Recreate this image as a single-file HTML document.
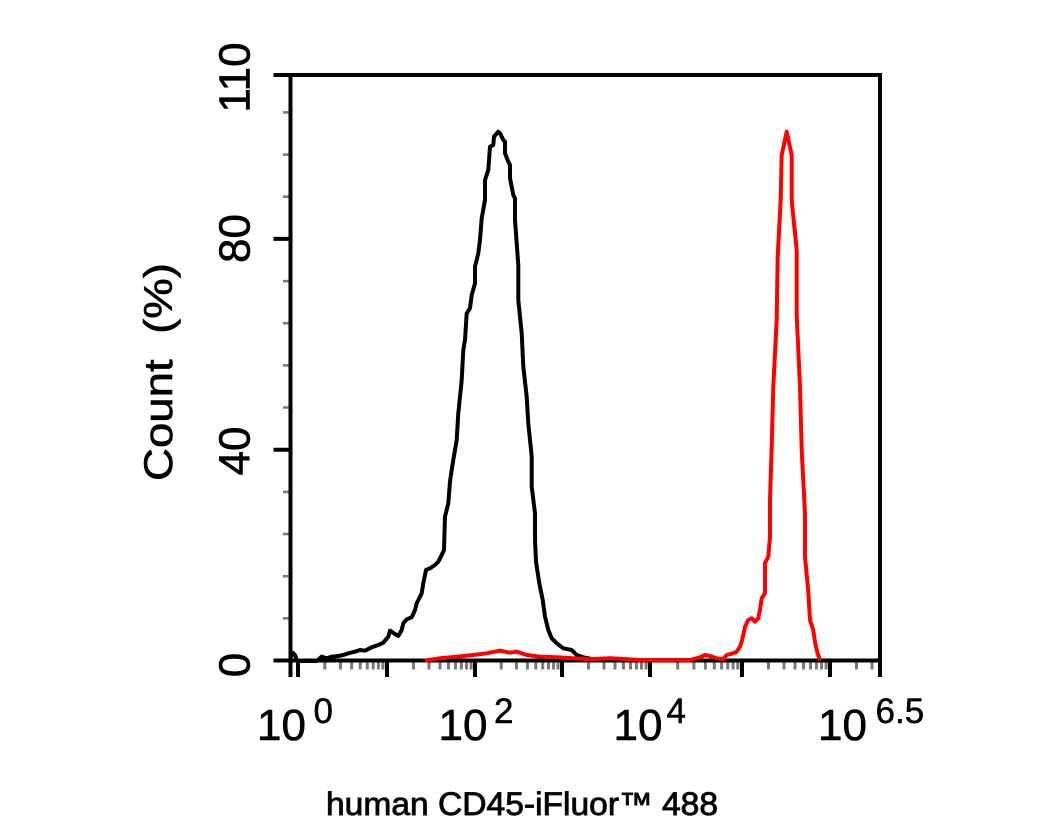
<!DOCTYPE html>
<html>
<head>
<meta charset="utf-8">
<style>
  html, body { margin: 0; padding: 0; background: #ffffff; }
  svg { display: block; }
  text { font-family: "Liberation Sans", Arial, sans-serif; fill: #000; }
</style>
</head>
<body>
<svg width="1046" height="837" viewBox="0 0 1046 837" xmlns="http://www.w3.org/2000/svg">
  <rect x="0" y="0" width="1046" height="837" fill="#ffffff"/>

  <g stroke="#7a7a7a" stroke-width="2.6">
    <line x1="283" y1="618.3" x2="290" y2="618.3"/>
    <line x1="283" y1="576.2" x2="290" y2="576.2"/>
    <line x1="283" y1="534.0" x2="290" y2="534.0"/>
    <line x1="283" y1="491.9" x2="290" y2="491.9"/>
    <line x1="283" y1="407.5" x2="290" y2="407.5"/>
    <line x1="283" y1="365.4" x2="290" y2="365.4"/>
    <line x1="283" y1="323.2" x2="290" y2="323.2"/>
    <line x1="283" y1="281.1" x2="290" y2="281.1"/>
    <line x1="283" y1="196.7" x2="290" y2="196.7"/>
    <line x1="283" y1="154.6" x2="290" y2="154.6"/>
    <line x1="283" y1="112.4" x2="290" y2="112.4"/>
  </g>

  <g stroke="#7a7a7a" stroke-width="3">
    <line x1="324.8" y1="662" x2="324.8" y2="669.5"/>
    <line x1="340.5" y1="662" x2="340.5" y2="669.5"/>
    <line x1="351.6" y1="662" x2="351.6" y2="669.5"/>
    <line x1="360.2" y1="662" x2="360.2" y2="669.5"/>
    <line x1="367.3" y1="662" x2="367.3" y2="669.5"/>
    <line x1="373.2" y1="662" x2="373.2" y2="669.5"/>
    <line x1="378.4" y1="662" x2="378.4" y2="669.5"/>
    <line x1="382.9" y1="662" x2="382.9" y2="669.5"/>
    <line x1="413.5" y1="662" x2="413.5" y2="669.5"/>
    <line x1="429" y1="662" x2="429" y2="669.5"/>
    <line x1="440" y1="662" x2="440" y2="669.5"/>
    <line x1="448.5" y1="662" x2="448.5" y2="669.5"/>
    <line x1="455.5" y1="662" x2="455.5" y2="669.5"/>
    <line x1="461.4" y1="662" x2="461.4" y2="669.5"/>
    <line x1="466.5" y1="662" x2="466.5" y2="669.5"/>
    <line x1="471.1" y1="662" x2="471.1" y2="669.5"/>
    <line x1="501.2" y1="662" x2="501.2" y2="669.5"/>
    <line x1="516.5" y1="662" x2="516.5" y2="669.5"/>
    <line x1="527.4" y1="662" x2="527.4" y2="669.5"/>
    <line x1="535.8" y1="662" x2="535.8" y2="669.5"/>
    <line x1="542.7" y1="662" x2="542.7" y2="669.5"/>
    <line x1="548.5" y1="662" x2="548.5" y2="669.5"/>
    <line x1="553.6" y1="662" x2="553.6" y2="669.5"/>
    <line x1="558.0" y1="662" x2="558.0" y2="669.5"/>
    <line x1="588.5" y1="662" x2="588.5" y2="669.5"/>
    <line x1="604" y1="662" x2="604" y2="669.5"/>
    <line x1="615" y1="662" x2="615" y2="669.5"/>
    <line x1="623.5" y1="662" x2="623.5" y2="669.5"/>
    <line x1="630.5" y1="662" x2="630.5" y2="669.5"/>
    <line x1="636.4" y1="662" x2="636.4" y2="669.5"/>
    <line x1="641.5" y1="662" x2="641.5" y2="669.5"/>
    <line x1="646.1" y1="662" x2="646.1" y2="669.5"/>
    <line x1="677.7" y1="662" x2="677.7" y2="669.5"/>
    <line x1="693.9" y1="662" x2="693.9" y2="669.5"/>
    <line x1="705.4" y1="662" x2="705.4" y2="669.5"/>
    <line x1="714.3" y1="662" x2="714.3" y2="669.5"/>
    <line x1="721.6" y1="662" x2="721.6" y2="669.5"/>
    <line x1="727.7" y1="662" x2="727.7" y2="669.5"/>
    <line x1="733.1" y1="662" x2="733.1" y2="669.5"/>
    <line x1="737.8" y1="662" x2="737.8" y2="669.5"/>
    <line x1="768.5" y1="662" x2="768.5" y2="669.5"/>
    <line x1="784" y1="662" x2="784" y2="669.5"/>
    <line x1="795" y1="662" x2="795" y2="669.5"/>
    <line x1="803.5" y1="662" x2="803.5" y2="669.5"/>
    <line x1="810.5" y1="662" x2="810.5" y2="669.5"/>
    <line x1="816.4" y1="662" x2="816.4" y2="669.5"/>
    <line x1="821.5" y1="662" x2="821.5" y2="669.5"/>
    <line x1="826.1" y1="662" x2="826.1" y2="669.5"/>
    <line x1="856.5" y1="662" x2="856.5" y2="669.5"/>
    <line x1="872" y1="662" x2="872" y2="669.5"/>
  </g>

  <g stroke="#000" stroke-width="4" fill="none">
    <line x1="273.5" y1="75" x2="882" y2="75"/>
    <line x1="273.5" y1="660.5" x2="882" y2="660.5"/>
    <line x1="290.5" y1="73" x2="290.5" y2="677"/>
    <line x1="880" y1="73" x2="880" y2="677"/>
    <line x1="273.5" y1="449.7" x2="290.5" y2="449.7"/>
    <line x1="273.5" y1="238.9" x2="290.5" y2="238.9"/>
    <line x1="298" y1="660.5" x2="298" y2="677"/>
    <line x1="387" y1="660.5" x2="387" y2="677"/>
    <line x1="475" y1="660.5" x2="475" y2="677"/>
    <line x1="562" y1="660.5" x2="562" y2="677"/>
    <line x1="650" y1="660.5" x2="650" y2="677"/>
    <line x1="742" y1="660.5" x2="742" y2="677"/>
    <line x1="830" y1="660.5" x2="830" y2="677"/>
  </g>

  <polyline fill="none" stroke="#000" stroke-width="4" stroke-linejoin="round"
    points="291,657 293,653 295,655 297,661 316.7,661 321.7,656.7 326.7,658.3 331.7,656.7 338.3,656 343.3,655 348.3,653.3 355,651.7 360,650 365,650.7 371.7,647.3 378.3,645 383.3,642.7 388.3,636.7 390,630.7 395,634 398.3,636 401.7,630 403.3,623.3 406.7,619.3 411.7,617.3 415,610 416.7,603.3 421.7,593.3 423.3,583.3 426,570 430,568.3 435,565 438.3,561.7 441.7,555 444,550 444.3,540 445,516.7 448.3,503.3 450,481.7 451.7,470 453.3,460 455,450 456.7,440 458.3,413.3 460,396.7 461.7,380 463.3,350 465,340 466.7,313.3 470,308.3 471.7,295 475,283.3 475,266.7 478.3,253.3 480,240 481.7,218.3 485,200 485,180 488.3,170 490,146.7 493.3,145 494,136.7 498.3,131.7 500,133.3 503.3,140 505,141.7 505,153.3 508.3,161.7 510,165 510,178.3 513.3,195 515,198.3 515,220 518.3,265 518.3,300 521.7,333.3 523.3,366.7 526.7,396.7 528.3,423.3 531.7,456.7 531.7,486.7 535,513.3 535,540 536,561.7 539.3,583.3 542.7,600 545,616.7 548.3,630 551.7,638.3 556.7,643.3 563.3,648.3 571.7,650 576.7,655 583.3,657.3 593.3,659.3 603,660.5"/>

  <polyline fill="none" stroke="#ff0000" stroke-width="4" stroke-linejoin="round"
    points="425,660.5 440,658.3 456.7,656.7 473.3,655 486.7,653.3 500,650.7 510,652.7 516.7,651.7 526.7,655 540,656.7 556.7,657.3 573.3,658.3 590,659.3 610,658.3 640,660 690,660 700,657.3 705,655 710,656 716.7,658.3 723.3,659.3 726.7,655 733.3,653.3 736.7,651.7 740,646.7 741.7,641.7 743.3,635 745,626.7 748.3,620 751.7,618.3 755,621.7 758.3,618.3 760,610 761.7,598.3 765,593.3 765,563.3 768.3,556.7 770,536.7 770,500 771.7,446.7 773.3,386.7 776.7,320 777.7,256.7 780.7,200 781.7,155 786.7,131.7 791.7,155 791.7,200 796.7,250 796.7,315 800,386.7 801.7,450 805,513.3 805,556.7 808.3,591.7 810,620 813.3,630 815,642 816.7,650 820,660.5"/>

  <g font-size="44" text-anchor="middle" stroke="#000" stroke-width="0.6">
    <text transform="translate(249.5,77.5) rotate(-90)">110</text>
    <text transform="translate(249.5,238.5) rotate(-90)">80</text>
    <text transform="translate(249.5,451) rotate(-90)">40</text>
    <text transform="translate(249.5,665) rotate(-90)">0</text>
  </g>

  <text transform="translate(172,372) rotate(-90)" font-size="40" text-anchor="middle" textLength="218" lengthAdjust="spacingAndGlyphs" stroke="#000" stroke-width="0.6" xml:space="preserve">Count  (%)</text>

  <g font-size="44" stroke="#000" stroke-width="0.6">
    <text x="257" y="740">10</text>
    <text x="438.5" y="740">10</text>
    <text x="613.5" y="740">10</text>
    <text x="818" y="740">10</text>
  </g>
  <g font-size="35" stroke="#000" stroke-width="0.5">
    <text x="313.5" y="723">0</text>
    <text x="494" y="723">2</text>
    <text x="666.5" y="723">4</text>
    <text x="875.5" y="723">6.5</text>
  </g>

  <text x="326" y="815" font-size="32" textLength="392" lengthAdjust="spacingAndGlyphs" fill="#111" stroke="#111" stroke-width="0.9">human CD45-iFluor™ 488</text>
</svg>
</body>
</html>
